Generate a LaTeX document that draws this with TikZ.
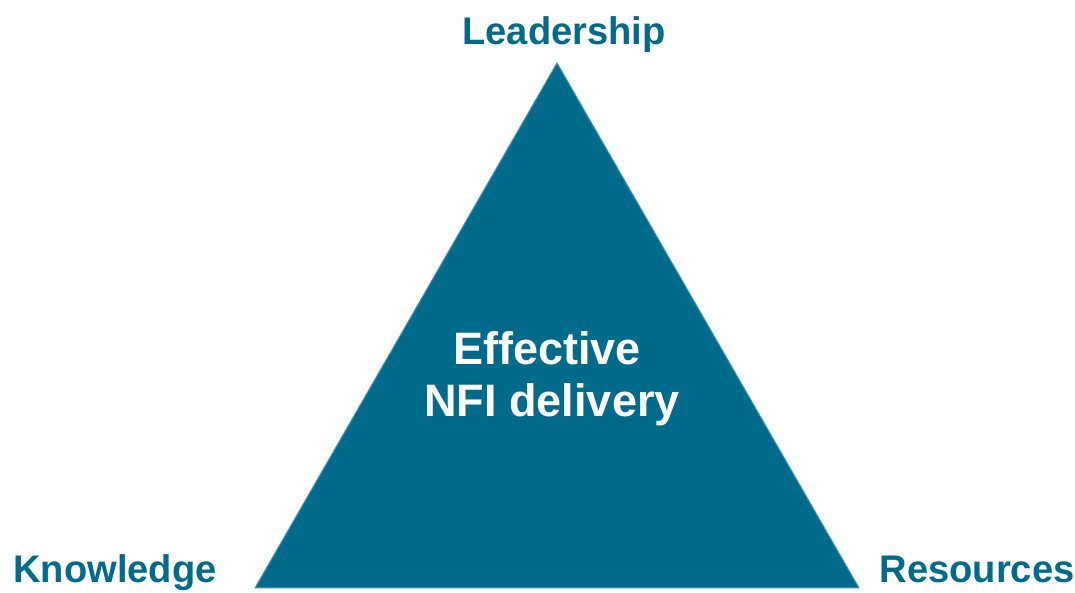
\documentclass[tikz,border=0pt]{standalone}
\usepackage{fontspec}
\setmainfont{Liberation Sans}
\newfontfamily\labfont[FakeStretch=0.99]{Liberation Sans}
\newfontfamily\infont[FakeStretch=0.99]{Liberation Sans}
\definecolor{tri}{RGB}{0,106,138}
\definecolor{triedge}{RGB}{60,150,185}
\begin{document}
\begin{tikzpicture}[x=1pt,y=1pt,
  corner/.style={anchor=base,text=tri,font=\labfont\bfseries\fontsize{38.5}{42}\selectfont,inner sep=0pt},
  inner/.style={anchor=base,text=white,font=\infont\bfseries\fontsize{45.5}{50}\selectfont,inner sep=0pt}]
\useasboundingbox (0,0) rectangle (1075,593);
\coordinate (apex) at (557,530);
\coordinate (bl) at (255,5);
\coordinate (br) at (859,5);
\fill[tri,draw=triedge,line width=1pt] (apex) -- (br) -- (bl) -- cycle;
\node[corner] (lead) at (564,548) {Leadership};
\node[corner] (know) at (115,10) {Knowledge};
\node[corner] (res) at (977,10) {Resources};
\node[inner] (eff) at (547,228) {Effective};
\node[inner] (nfi) at (552,176) {NFI delivery};
\end{tikzpicture}
\end{document}
